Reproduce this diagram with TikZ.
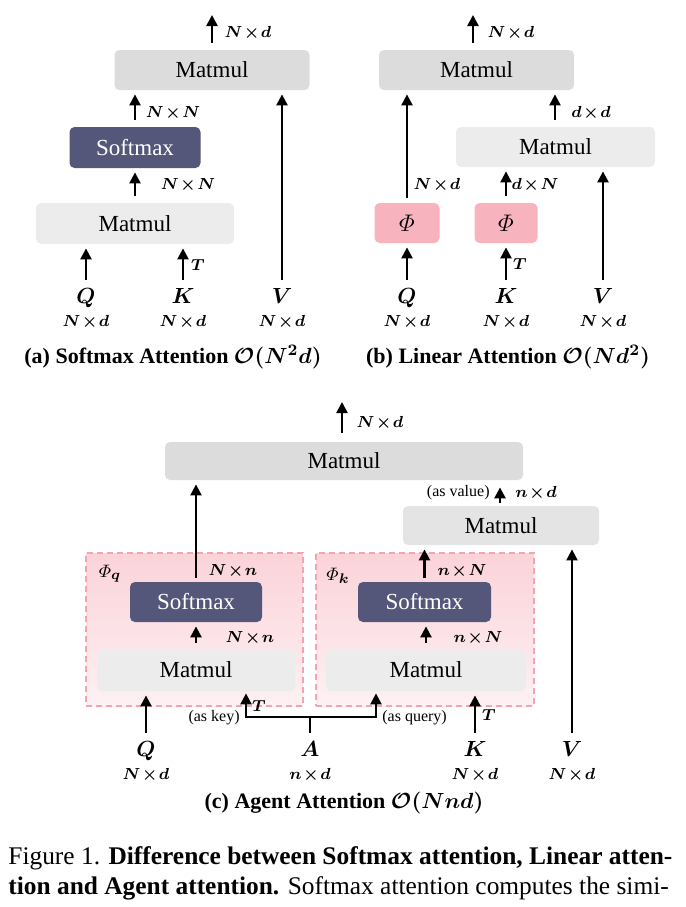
\documentclass[tikz,border=0pt]{standalone}
\usepackage{fontspec}
\setmainfont{Liberation Serif}
\usepackage{amsmath}
\usepackage{bm}
\usetikzlibrary{arrows.meta}

\definecolor{mmdark}{HTML}{DCDCDC}
\definecolor{mmlight}{HTML}{ECECEC}
\definecolor{mmmid}{HTML}{E4E4E4}
\definecolor{smfill}{HTML}{55577A}
\definecolor{phifill}{HTML}{F8B4BE}
\definecolor{dashpink}{HTML}{F5A3B0}
\definecolor{boxtop}{HTML}{FBD3D9}
\definecolor{boxbot}{HTML}{FDF1F3}

\newcommand{\dimfont}{\fontsize{8}{9}\selectfont\boldmath\medmuskip=1.5mu\relax}

\tikzset{
  opbox/.style={rounded corners=2.5pt, inner sep=0pt, font=\fontsize{11.5}{13}\selectfont},
  matmul/.style={opbox, fill=mmlight},
  softmaxbox/.style={opbox, fill=smfill, text=white},
  phibox/.style={opbox, fill=phifill},
  agentbox/.style={draw=dashpink, dash pattern=on 3pt off 2pt, line width=0.6pt,
    top color=boxtop, bottom color=boxbot, inner sep=0pt},
  vec/.style={inner sep=0pt, font=\fontsize{10.5}{12}\selectfont, text height=7pt, text depth=2pt},
  dimlab/.style={inner sep=0pt, font=\dimfont},
  note/.style={inner sep=0pt, font=\fontsize{8}{9}\selectfont},
  subcap/.style={inner sep=0pt, font=\fontsize{11}{13}\selectfont\bfseries\boldmath},
  arr/.style={line width=1.2pt, -{Triangle[length=5.5pt,width=5.5pt]}, shorten <=3pt, shorten >=2pt},
}

\begin{document}
\begin{tikzpicture}[x=0.5pt,y=-0.5pt]
	\useasboundingbox (0,0) rectangle (686,907);

	% (a) softmax attention
	\node[matmul, fill=mmdark, minimum width=97.5pt, minimum height=20pt] (amm2) at (212,70) {Matmul};
	\node[softmaxbox, minimum width=65.5pt, minimum height=20.5pt] (asm) at (135,147.5) {Softmax};
	\node[matmul, minimum width=99pt, minimum height=20.5pt] (amm1) at (135,223.5) {Matmul};
	\node[vec] (aq) at (86,298) {$\bm{Q}$};
	\node[vec] (ak) at (183,298) {$\bm{K}$};
	\node[vec] (av) at (282,298) {$\bm{V}$};
	\node[dimlab] (aqd) at (86,322) {$N\times d$};
	\node[dimlab] (akd) at (183,322) {$N\times d$};
	\node[dimlab] (avd) at (282,322) {$N\times d$};
	\coordinate (aout) at (212,15);
	\draw[arr, shorten <=3.5pt, shorten >=0pt] (amm2.north) -- (aout);
	\draw[arr, shorten <=3.5pt] (asm.north) -- (asm.north |- amm2.south);
	\draw[arr, shorten <=3.5pt] (amm1.north) -- (amm1.north |- asm.south);
	\draw[arr, shorten <=4.5pt] (aq.north) -- (aq.north |- amm1.south);
	\draw[arr, shorten <=4.5pt] (ak.north) -- (ak.north |- amm1.south);
	\draw[arr, shorten <=4.5pt] (av.north) -- (av.north |- amm2.south);
	\node[dimlab] (ado) at (248,33) {$N\times d$};
	\node[dimlab] (ads) at (173,113) {$N\times N$};
	\node[dimlab] (adm) at (188,185) {$N\times N$};
	\node[dimlab] (akt) at (198,265) {$T$};
	\node[subcap] (acap) at (173,357) {(a) Softmax Attention $\mathcal{O}(N^2 d)$};

	% (b) linear attention
	\node[matmul, fill=mmdark, minimum width=97.5pt, minimum height=20pt] (bmm2) at (476.5,70) {Matmul};
	\node[matmul, minimum width=99.5pt, minimum height=20pt] (bmm1) at (555.5,147) {Matmul};
	\node[phibox, minimum width=32.5pt, minimum height=20pt] (bphq) at (407,223) {$\varPhi$};
	\node[phibox, minimum width=31.5pt, minimum height=20pt] (bphk) at (506,223) {$\varPhi$};
	\node[vec] (bq) at (407,298) {$\bm{Q}$};
	\node[vec] (bk) at (506,298) {$\bm{K}$};
	\node[vec] (bv) at (603,298) {$\bm{V}$};
	\node[dimlab] (bqd) at (407,322) {$N\times d$};
	\node[dimlab] (bkd) at (506,322) {$N\times d$};
	\node[dimlab] (bvd) at (603,322) {$N\times d$};
	\coordinate (bout) at (473,15);
	\draw[arr, shorten <=3.5pt, shorten >=0pt] (bout |- bmm2.north) -- (bout);
	\draw[arr, shorten <=2.5pt] (bphq.north) -- (bphq.north |- bmm2.south);
	\draw[arr, shorten <=3.5pt] (bphk.north) -- (bphk.north |- bmm1.south);
	\draw[arr, shorten <=3.5pt] (bmm1.north -| 555,0) -- (555,0 |- bmm2.south);
	\draw[arr, shorten <=4.5pt] (bq.north) -- (bq.north |- bphq.south);
	\draw[arr, shorten <=4.5pt] (bk.north) -- (bk.north |- bphk.south);
	\draw[arr, shorten <=4.5pt] (bv.north) -- (bv.north |- bmm1.south);
	\node[dimlab] (bdo) at (511,33) {$N\times d$};
	\node[dimlab] (bdd) at (591,113) {$d\times d$};
	\node[dimlab] (bdq) at (437,185) {$N\times d$};
	\node[dimlab] (bdk) at (535,185) {$d\times N$};
	\node[dimlab] (bkt) at (520,264) {$T$};
	\node[subcap] (bcap) at (508,357) {(b) Linear Attention $\mathcal{O}(Nd^2)$};

	% (c) agent attention
	\node[agentbox, minimum width=108.5pt, minimum height=76.5pt] (cboxq) at (194.5,629.5) {};
	\node[agentbox, minimum width=109pt, minimum height=76.5pt] (cboxk) at (425,629.5) {};
	\node[matmul, fill=mmdark, minimum width=179pt, minimum height=19pt] (cmm2) at (344,461) {Matmul};
	\node[matmul, fill=mmmid, minimum width=98pt, minimum height=19.5pt] (cmm1) at (501,525.5) {Matmul};
	\node[softmaxbox, minimum width=66pt, minimum height=20pt] (csmq) at (196,602) {Softmax};
	\node[softmaxbox, minimum width=66.5pt, minimum height=20pt] (csmk) at (424.5,602) {Softmax};
	\node[matmul, minimum width=99pt, minimum height=21pt] (cmmq) at (196,670) {Matmul};
	\node[matmul, minimum width=100pt, minimum height=21pt] (cmmk) at (426,670) {Matmul};
	\node[inner sep=0pt, font=\fontsize{9.5}{10}\selectfont] (cphq) at (110,574) {$\varPhi_{\bm q}$};
	\node[inner sep=0pt, font=\fontsize{9.5}{10}\selectfont] (cphk) at (338,576) {$\varPhi_{\bm k}$};
	\node[vec] (cq) at (146,751) {$\bm{Q}$};
	\node[vec] (ca) at (310,751) {$\bm{A}$};
	\node[vec] (ck) at (475,751) {$\bm{K}$};
	\node[vec] (cv) at (572,751) {$\bm{V}$};
	\node[dimlab] (cqd) at (146,775) {$N\times d$};
	\node[dimlab] (cad) at (310,775) {$n\times d$};
	\node[dimlab] (ckd) at (475,775) {$N\times d$};
	\node[dimlab] (cvd) at (572,775) {$N\times d$};
	\coordinate (cout) at (342,402);
	\coordinate (ckl) at (246,717);
	\coordinate (ckr) at (376,717);
	\draw[arr, shorten <=4.5pt, shorten >=0pt] (cout |- cmm2.north) -- (cout);
	\draw[arr, shorten <=1.5pt, shorten >=3.5pt] (500,0 |- cmm1.north) -- (500,0 |- cmm2.south);
	\draw[arr, shorten <=2pt] (csmq.north) -- (csmq.north |- cmm2.south);
	\draw[arr, shorten <=2pt] (csmk.north) -- (csmk.north |- cmm1.south);
	\draw[arr] (cmmq.north) -- (cmmq.north |- csmq.south);
	\draw[arr] (cmmk.north) -- (cmmk.north |- csmk.south);
	\draw[arr, shorten <=4.5pt] (cq.north) -- (cq.north |- cmmq.south);
	\draw[arr, shorten <=4.5pt] (ck.north) -- (ck.north |- cmmk.south);
	\draw[arr, shorten <=4.5pt] (cv.north) -- (cv.north |- cmm1.south);
	\draw[arr, {Triangle[length=5.5pt,width=5.5pt]}-{Triangle[length=5.5pt,width=5.5pt]}, shorten <=1pt, shorten >=1pt]
		(ckl |- cmmq.south) -- (ckl) -- (ckr) -- (ckr |- cmmk.south);
	\draw[line width=1.2pt, shorten <=4.5pt] (ca.north) -- (ca.north |- ckl);
	\node[dimlab] (cdo) at (380,423) {$N\times d$};
	\node[note, anchor=east] (cval) at (490,493) {(as value)};
	\node[dimlab] (cdv) at (536,493) {$n\times d$};
	\node[dimlab] (cdsq) at (233,571) {$N\times n$};
	\node[dimlab] (cdsk) at (462,571) {$n\times N$};
	\node[dimlab] (cdmq) at (250,638) {$N\times n$};
	\node[dimlab] (cdmk) at (478,638) {$n\times N$};
	\node[dimlab] (cat) at (259,706) {$T$};
	\node[dimlab] (ckt) at (489,715) {$T$};
	\node[note, anchor=east] (ckey) at (240,718) {(as key)};
	\node[note, anchor=west] (cqry) at (382,718) {(as query)};
	\node[subcap] (ccap) at (344,803) {(c) Agent Attention $\mathcal{O}(Nnd)$};

	% figure caption
	\node[inner sep=0pt, anchor=west, font=\fontsize{12.7}{14}\selectfont] (fig1) at (8,858)
		{Figure 1. \textbf{Difference between Softmax attention, Linear atten-}};
	\node[inner sep=0pt, anchor=west, font=\fontsize{12.7}{14}\selectfont] (fig2) at (8,888)
		{\textbf{tion and Agent attention.} Softmax attention computes the simi-};
\end{tikzpicture}
\end{document}
